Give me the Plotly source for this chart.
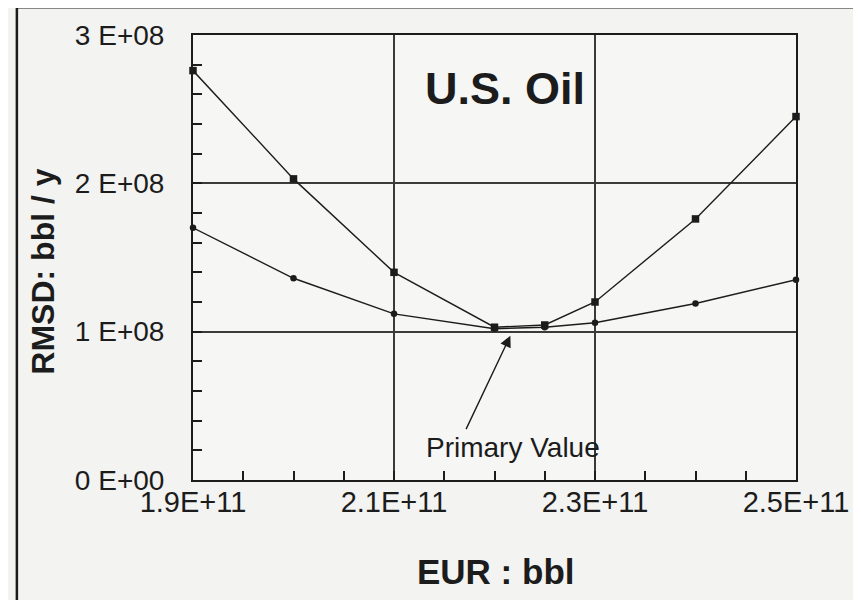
import plotly.graph_objects as go

# ---- data ----
eur = [1.9e11, 2.0e11, 2.1e11, 2.2e11, 2.25e11, 2.3e11, 2.4e11, 2.5e11]
rmsd_upper = [2.76e8, 2.03e8, 1.40e8, 1.03e8, 1.045e8, 1.20e8, 1.76e8, 2.45e8]
rmsd_lower = [1.70e8, 1.36e8, 1.12e8, 1.02e8, 1.03e8, 1.06e8, 1.19e8, 1.35e8]

x_tickvals = [1.9e11, 2.1e11, 2.3e11, 2.5e11]
x_ticktext = ["1.9E+11", "2.1E+11", "2.3E+11", "2.5E+11"]
y_tickvals = [0, 1e8, 2e8, 3e8]
y_ticktext = ["0 E+00", "1 E+08", "2 E+08", "3 E+08"]

title_text = "U.S. Oil"
x_title = "EUR : bbl"
y_title = "RMSD: bbl / y"
note_text = "Primary Value"
note_tip = (2.2158e11, 0.973e8)

OFF = 8  # page body margin in the browser
W, H = 861 - OFF, 600 - OFF
L, R, T, B = 193 - OFF, 799 - OFF, 33 - OFF, 480 - OFF
pw, ph = R - L, B - T

def px(xp):
    return (xp - OFF - L) / pw

def py(yp):
    return (B - (yp - OFF)) / ph

ink = "#1c1c1c"
font = "Liberation Sans, Arial, sans-serif"

fig = go.Figure()
fig.add_trace(go.Scatter(
    x=eur, y=rmsd_upper, mode="lines+markers",
    line=dict(color=ink, width=1.4),
    marker=dict(symbol="square", size=7.5, color=ink),
    showlegend=False, cliponaxis=False))
fig.add_trace(go.Scatter(
    x=eur, y=rmsd_lower, mode="lines+markers",
    line=dict(color=ink, width=1.4),
    marker=dict(symbol="circle", size=6.5, color=ink),
    showlegend=False, cliponaxis=False))

axis_common = dict(
    showline=True, linewidth=2, linecolor=ink, mirror=True,
    showgrid=True, gridcolor="#3a3a3a", gridwidth=1.5,
    zeroline=False, ticks="inside", ticklen=9, tickwidth=1.5, tickcolor=ink,
)

fig.update_xaxes(
    range=[1.9e11, 2.5e11], tickmode="array",
    tickvals=x_tickvals, ticktext=x_ticktext,
    tickfont=dict(family=font, size=29, color=ink),
    minor=dict(dtick=5e9, tick0=1.9e11, ticks="inside", ticklen=9,
               tickwidth=1.5, tickcolor=ink, showgrid=False),
    ticklabelstandoff=-5,
    **axis_common)
fig.update_yaxes(
    range=[0, 3e8], tickmode="array",
    tickvals=y_tickvals, ticktext=y_ticktext,
    tickfont=dict(family=font, size=28, color=ink),
    minor=dict(dtick=2e7, tick0=0, ticks="inside", ticklen=9,
               tickwidth=1.5, tickcolor=ink, showgrid=False),
    ticklabelstandoff=21,
    **axis_common)

annotations = [
    dict(text="<b>%s</b>" % title_text, x=px(507), y=py(87), xref="paper", yref="paper",
         showarrow=False, font=dict(family=font, size=45, color=ink),
         xanchor="center", yanchor="middle"),
    dict(text="<b>%s</b>" % x_title, x=px(497), y=py(572), xref="paper", yref="paper",
         showarrow=False, font=dict(family=font, size=35, color=ink),
         xanchor="center", yanchor="middle"),
    dict(text="<b>%s</b>" % y_title, x=px(42), y=py(271), xref="paper", yref="paper",
         showarrow=False, textangle=-90, font=dict(family=font, size=32, color=ink),
         xanchor="center", yanchor="middle"),
    dict(text=note_text, x=px(515), y=py(447), xref="paper", yref="paper",
         showarrow=False, font=dict(family=font, size=28, color=ink),
         xanchor="center", yanchor="middle"),
    dict(text="", x=note_tip[0], y=note_tip[1], xref="x", yref="y",
         showarrow=True, ax=-45, ay=95, arrowhead=2, arrowsize=1.6,
         arrowwidth=1.4, arrowcolor=ink, standoff=0),
]

shapes = [
    dict(type="line", xref="paper", yref="paper", x0=px(16), x1=px(16),
         y0=py(5), y1=py(610), line=dict(color=ink, width=2.5)),
    dict(type="line", xref="paper", yref="paper", x0=px(16), x1=px(870),
         y0=py(5), y1=py(5), line=dict(color=ink, width=2.5)),
]

fig.update_layout(
    width=W, height=H,
    margin=dict(l=L, r=W - R, t=T, b=H - B),
    paper_bgcolor="#f3f3f1", plot_bgcolor="#f6f6f4",
    annotations=annotations, shapes=shapes,
    font=dict(family=font, color=ink),
)

fig.write_html("out.html")
